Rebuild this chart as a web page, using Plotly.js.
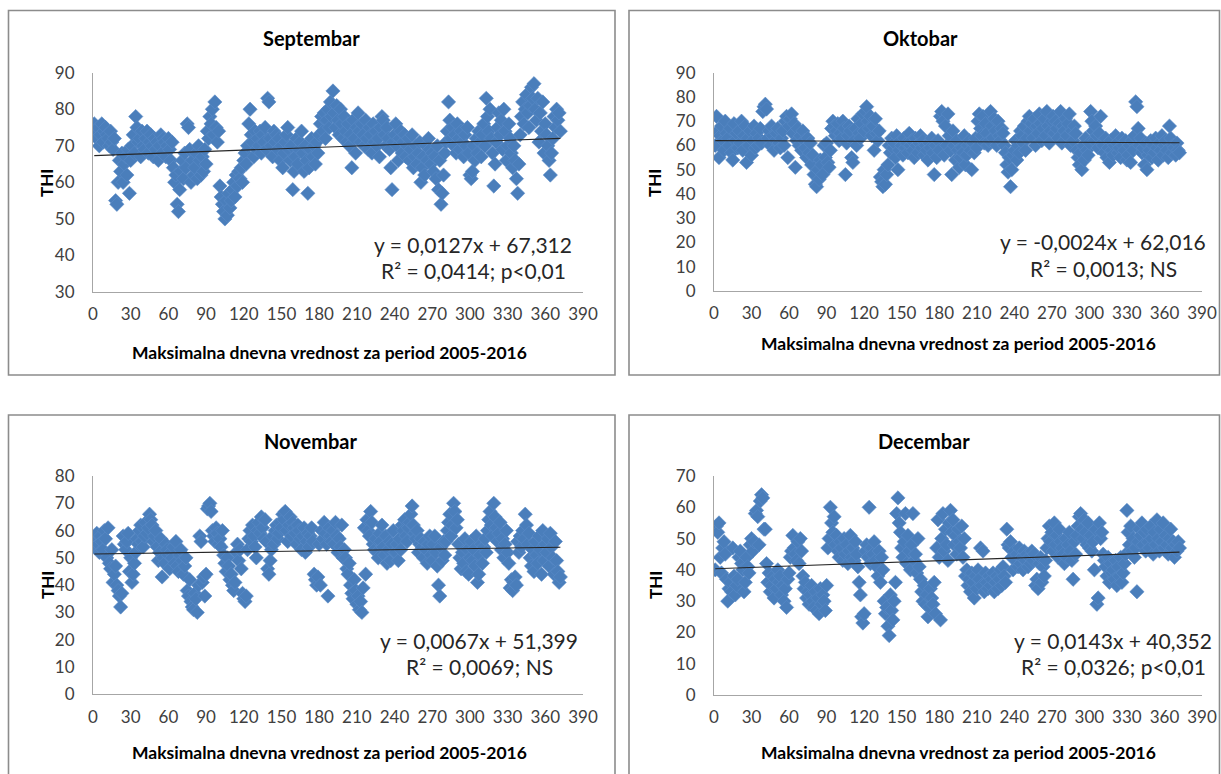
<!DOCTYPE html>
<html>
<head>
<meta charset="utf-8">
<script src="https://cdn.plot.ly/plotly-3.0.1.min.js"></script>
<style>
  html, body { margin: 0; padding: 0; background: #ffffff; }
  #chart { width: 1221px; height: 774px; }
</style>
</head>
<body>
<div id="chart"></div>
<script>
// Monthly THI values, one per day of the 2005-2016 series
const monthNames = ['Septembar', 'Oktobar', 'Novembar', 'Decembar'];

const septTHI = [
  76, 74, 72, 75, 70, 73, 76, 71, 74, 75,
  73, 72, 70, 74, 71, 69, 72, 55, 54, 60,
  66, 63, 68, 60, 65, 67, 62, 69, 57, 66,
  70, 73, 68, 78, 75, 71, 72, 67, 74, 70,
  69, 72, 74, 68, 71, 73, 70, 67, 72, 69,
  71, 66, 70, 73, 68, 72, 71, 67, 70, 72,
  69, 66, 71, 64, 60, 62, 54, 52, 58, 63,
  66, 61, 68, 64, 76, 75, 69, 60, 66, 62,
  64, 68, 61, 70, 66, 62, 67, 63, 69, 65,
  74, 72, 78, 76, 80, 73, 82, 75, 71, 74,
  59, 56, 54, 52, 50, 55, 51, 57, 53, 55,
  58, 60, 56, 62, 59, 63, 61, 64, 60, 66,
  68, 65, 70, 76, 80, 73, 71, 67, 74, 69,
  72, 70, 74, 68, 73, 71, 75, 69, 83, 82,
  72, 70, 67, 74, 71, 73, 69, 72, 66, 70,
  64, 68, 71, 73, 75, 69, 66, 70, 58, 63,
  67, 72, 65, 69, 71, 74, 68, 63, 70, 66,
  57, 64, 69, 72, 67, 70, 65, 71, 68, 73,
  76, 78, 74, 79, 72, 77, 80, 75, 82, 78,
  85, 79, 75, 81, 77, 73, 80, 76, 72, 78,
  74, 71, 76, 70, 73, 64, 77, 72, 68, 75,
  79, 74, 71, 76, 73, 70, 77, 72, 69, 75,
  73, 68, 76, 71, 74, 70, 72, 67, 75, 78,
  77, 73, 70, 75, 72, 69, 64, 58, 71, 73,
  76, 70, 66, 72, 74, 68, 71, 73, 67, 70,
  72, 66, 69, 73, 64, 67, 70, 65, 68, 71,
  60, 64, 67, 62, 70, 66, 72, 69, 65, 68,
  63, 67, 61, 70, 58, 66, 54, 57, 62, 68,
  71, 74, 82, 77, 72, 75, 70, 73, 68, 76,
  72, 69, 74, 71, 67, 73, 70, 75, 68, 62,
  61, 63, 70, 66, 72, 68, 74, 71, 67, 73,
  76, 70, 83, 78, 74, 80, 72, 68, 59, 65,
  71, 75, 79, 73, 77, 69, 80, 74, 66, 70,
  76, 72, 68, 64, 70, 66, 61, 57, 65, 73,
  78, 82, 76, 80, 84, 79, 75, 81, 86, 83,
  87, 80, 77, 83, 71, 79, 74, 82, 68, 76,
  73, 70, 66, 62, 68, 72, 78, 75, 80, 77,
  79, 74
];

const oktTHI = [
  60, 72, 66, 55, 64, 68, 62, 58, 70, 65,
  63, 60, 67, 57, 54, 69, 62, 65, 59, 66,
  61, 70, 58, 64, 68, 53, 63, 60, 66, 56,
  62, 68, 59, 65, 60, 63, 67, 61, 74, 76,
  77, 75, 63, 66, 60, 68, 64, 58, 62, 65,
  67, 61, 59, 63, 66, 60, 70, 72, 55, 68,
  71, 73, 65, 69, 51, 62, 67, 60, 64, 58,
  66, 62, 59, 55, 63, 57, 61, 52, 56, 48,
  44, 43, 50, 46, 54, 52, 48, 60, 55, 61,
  53, 51, 58, 67, 70, 68, 64, 66, 69, 62,
  65, 63, 70, 67, 48, 61, 64, 68, 66, 55,
  53, 62, 67, 60, 71, 65, 63, 69, 73, 66,
  74, 76, 70, 67, 72, 64, 68, 58, 71, 65,
  62, 66, 47, 45, 43, 50, 44, 48, 52, 60,
  57, 63, 59, 61, 55, 64, 50, 58, 62, 60,
  56, 63, 59, 61, 57, 65, 60, 62, 58, 55,
  63, 60, 57, 61, 64, 59, 62, 56, 60, 58,
  54, 61, 59, 63, 57, 48, 60, 55, 62, 58,
  72, 74, 70, 56, 68, 60, 73, 64, 58, 48,
  66, 60, 54, 62, 58, 51, 55, 59, 57, 64,
  52, 56, 60, 62, 58, 50, 61, 57, 63, 59,
  70, 73, 67, 64, 72, 61, 69, 65, 60, 62,
  74, 68, 63, 71, 66, 60, 70, 64, 62, 67,
  65, 60, 57, 52, 49, 55, 43, 50, 56, 58,
  62, 54, 60, 57, 66, 64, 61, 68, 58, 63,
  70, 72, 66, 69, 63, 71, 60, 68, 65, 73,
  69, 62, 67, 71, 64, 74, 68, 61, 66, 70,
  72, 65, 70, 67, 63, 69, 74, 61, 68, 66,
  71, 64, 69, 73, 60, 66, 62, 68, 65, 58,
  55, 52, 57, 50, 60, 54, 63, 58, 56, 61,
  74, 70, 66, 62, 68, 64, 59, 65, 72, 61,
  60, 57, 63, 55, 59, 53, 62, 58, 56, 60,
  64, 61, 57, 59, 55, 63, 60, 58, 62, 54,
  56, 60, 53, 62, 58, 64, 78, 76, 67, 60,
  63, 57, 59, 52, 61, 50, 56, 58, 62, 55,
  60, 57, 63, 59, 54, 61, 58, 64, 56, 60,
  62, 58, 55, 68, 63, 57, 60, 59, 56, 61,
  58, 57
];

const novTHI = [
  54, 57, 59, 55, 52, 58, 56, 53, 60, 57,
  50, 61, 48, 46, 53, 41, 44, 47, 40, 38,
  36, 32, 37, 58, 55, 53, 56, 59, 45, 50,
  41, 44, 48, 52, 57, 55, 60, 62, 56, 54,
  58, 63, 59, 61, 66, 64, 62, 56, 58, 60,
  54, 49, 52, 57, 43, 50, 48, 55, 53, 51,
  46, 52, 50, 54, 48, 56, 47, 45, 51, 53,
  49, 44, 47, 50, 38, 36, 42, 34, 32, 31,
  37, 35, 30, 40, 58, 56, 41, 43, 36, 44,
  68, 69, 70, 67, 60, 58, 56, 61, 59, 55,
  57, 54, 60, 51, 48, 45, 50, 47, 42, 44,
  40, 38, 41, 52, 55, 49, 53, 46, 37, 35,
  34, 36, 53, 57, 60, 56, 62, 58, 54, 50,
  60, 63, 59, 65, 61, 57, 64, 56, 46, 44,
  49, 53, 58, 55, 60, 62, 57, 59, 63, 61,
  66, 64, 67, 60, 56, 62, 65, 58, 63, 61,
  59, 55, 62, 60, 57, 53, 58, 61, 52, 56,
  59, 54, 58, 61, 56, 44, 42, 40, 43, 55,
  40, 60, 57, 63, 59, 55, 36, 61, 58, 56,
  60, 55, 63, 58, 52, 57, 54, 62, 50, 53,
  50, 46, 44, 48, 40, 37, 35, 42, 38, 33,
  36, 31, 34, 30, 39, 61, 44, 64, 60, 58,
  67, 63, 55, 53, 57, 52, 50, 59, 56, 62,
  54, 51, 58, 48, 53, 56, 49, 55, 60, 52,
  52, 55, 49, 57, 53, 62, 60, 64, 58, 56,
  61, 63, 66, 69, 62, 59, 57, 60, 52, 55,
  57, 54, 50, 56, 53, 48, 55, 58, 51, 49,
  55, 58, 52, 47, 40, 36, 54, 49, 56, 51,
  56, 60, 63, 66, 58, 62, 70, 67, 61, 64,
  55, 50, 46, 52, 48, 57, 45, 53, 44, 50,
  56, 49, 53, 47, 58, 41, 44, 51, 55, 48,
  54, 57, 52, 60, 64, 67, 62, 58, 70, 65,
  61, 56, 59, 63, 53, 57, 50, 55, 60, 52,
  48, 39, 42, 38, 41, 43, 40, 56, 52, 58,
  54, 60, 57, 66, 62, 55, 59, 50, 47, 53,
  45, 56, 51, 48, 58, 53, 44, 60, 49, 55,
  52, 57, 47, 59, 54, 50, 44, 56, 49, 45,
  41, 43
];

const decTHI = [
  40, 54, 52, 55, 44, 39, 47, 49, 45, 37,
  30, 34, 36, 33, 47, 38, 32, 35, 37, 44,
  46, 42, 40, 33, 36, 44, 41, 39, 48, 50,
  46, 49, 58, 59, 57, 48, 62, 64, 63, 53,
  53, 42, 36, 39, 33, 35, 38, 31, 37, 34,
  40, 36, 38, 32, 35, 30, 34, 28, 37, 39,
  44, 46, 51, 47, 45, 43, 49, 42, 50, 46,
  38, 34, 36, 31, 33, 29, 32, 35, 30, 28,
  33, 27, 31, 26, 34, 29, 32, 30, 27, 35,
  47, 50, 60, 55, 52, 57, 48, 51, 46, 44,
  49, 47, 43, 50, 45, 48, 42, 46, 51, 44,
  47, 43, 49, 45, 41, 36, 32, 25, 23, 26,
  46, 48, 44, 60, 42, 47, 45, 49, 43, 41,
  38, 46, 36, 44, 40, 30, 26, 28, 22, 19,
  32, 27, 24, 30, 36, 58, 63, 55, 52, 47,
  44, 49, 58, 42, 51, 46, 40, 48, 58, 43,
  45, 39, 50, 41, 37, 33, 30, 35, 29, 32,
  25, 28, 34, 31, 29, 36, 26, 47, 56, 44,
  24, 50, 58, 46, 53, 48, 43, 55, 59, 52,
  56, 48, 51, 45, 53, 49, 47, 54, 44, 50,
  38, 40, 35, 37, 33, 39, 36, 31, 38, 34,
  40, 37, 47, 35, 46, 33, 39, 36, 34, 38,
  35, 37, 39, 33, 36, 38, 34, 37, 40, 35,
  41, 38, 36, 53, 48, 47, 49, 44, 40, 46,
  43, 45, 41, 47, 42, 44, 40, 46, 43, 45,
  41, 44, 42, 46, 43, 45, 35, 37, 34, 42,
  44, 36, 41, 38, 43, 47, 50, 54, 49, 52,
  46, 55, 48, 51, 44, 53, 49, 47, 45, 42,
  50, 44, 48, 52, 46, 43, 37, 49, 45, 51,
  54, 57, 58, 53, 50, 56, 52, 48, 55, 47,
  51, 46, 49, 40, 53, 29, 31, 55, 50, 52,
  45, 43, 41, 38, 44, 36, 42, 39, 40, 37,
  43, 35, 41, 38, 44, 36, 39, 42, 45, 59,
  52, 48, 54, 46, 50, 44, 47, 33, 49, 53,
  51, 55, 48, 52, 46, 53, 49, 47, 54, 50,
  45, 52, 48, 56, 50, 46, 53, 49, 55, 47,
  51, 48, 45, 50, 53, 47, 49, 44, 48, 46,
  49, 47
];

// Linear trend fits and their statistics
const trendSlope = [0.0127, -0.0024, 0.0067, 0.0143];
const trendIntercept = [67.312, 62.016, 51.399, 40.352];
const rSquared = [0.0414, 0.0013, 0.0069, 0.0326];
const significance = ['p<0,01', 'NS', 'NS', 'p<0,01'];

// Axis ticks
const xTicks = [0, 30, 60, 90, 120, 150, 180, 210, 240, 270, 300, 330, 360, 390];
const yRanges = [[30, 90], [0, 90], [0, 80], [0, 70]];

const xTitle = 'Maksimalna dnevna vrednost za period 2005-2016';
const yTitle = 'THI';

const seriesList = [septTHI, oktTHI, novTHI, decTHI];

// Page geometry (pixels)
const W = 1221, H = 774;
const FONT = 'Lato, "Open Sans", sans-serif';
const panels = [
  { left: 93,  right: 583,  top: 72.7, bottom: 292,   box: [8.5, 10.5, 615, 375],
    title: [311, 38], xt: [329, 352], yt: [47, 183], eq: [473, 244] },
  { left: 714, right: 1202, top: 72.7, bottom: 291,   box: [629, 10.5, 1219.5, 375],
    title: [920, 38], xt: [958, 343], yt: [655, 183], eq: [1103, 242] },
  { left: 93,  right: 583,  top: 476,  bottom: 694.3, box: [8.5, 415, 615, 790],
    title: [310, 441], xt: [329, 752], yt: [47, 585], eq: [479, 640] },
  { left: 714, right: 1202, top: 476,  bottom: 695,   box: [629, 415, 1219.5, 790],
    title: [924, 441], xt: [958, 752], yt: [655, 585], eq: [1113, 640] }
];

const px = v => v / W;
const py = v => 1 - v / H;
const fmt = (v, d) => v.toFixed(d).replace('.', ',');

const traces = [];
const layout = {
  width: W, height: H,
  margin: { l: 0, r: 0, t: 0, b: 0 },
  paper_bgcolor: '#ffffff',
  plot_bgcolor: 'rgba(0,0,0,0)',
  showlegend: false,
  font: { family: FONT, color: '#262626' },
  annotations: [],
  shapes: []
};

panels.forEach((p, i) => {
  const n = i + 1;
  const xa = n === 1 ? 'x' : 'x' + n;
  const ya = n === 1 ? 'y' : 'y' + n;
  const vals = seriesList[i];
  const days = vals.map((_, k) => k + 1);

  traces.push({
    type: 'scatter', mode: 'markers', x: days, y: vals,
    xaxis: xa, yaxis: ya, hoverinfo: 'skip',
    marker: { symbol: 'diamond', size: 11, color: '#4a7ebb',
              line: { width: 0.6, color: '#5b8cc8' } }
  });

  const xStart = days[0], xEnd = days[days.length - 1];
  traces.push({
    type: 'scatter', mode: 'lines',
    x: [xStart, xEnd],
    y: [trendIntercept[i] + trendSlope[i] * xStart, trendIntercept[i] + trendSlope[i] * xEnd],
    xaxis: xa, yaxis: ya, hoverinfo: 'skip',
    line: { color: '#262626', width: 1.1 }
  });

  const [y0, y1] = yRanges[i];
  const yTicks = [];
  for (let t = y0; t <= y1; t += 10) yTicks.push(t);

  layout['xaxis' + (n === 1 ? '' : n)] = {
    domain: [px(p.left), px(p.right)], anchor: ya,
    range: [0, 390], tickvals: xTicks, ticktext: xTicks.map(String),
    showgrid: false, zeroline: false, showline: true,
    linecolor: '#a6a6a6', linewidth: 1, ticks: '',
    ticklabelstandoff: 7,
    tickfont: { family: FONT, size: 17, color: '#404040' }
  };
  layout['yaxis' + (n === 1 ? '' : n)] = {
    domain: [py(p.bottom), py(p.top)], anchor: xa,
    range: [y0, y1], tickvals: yTicks, ticktext: yTicks.map(String),
    showgrid: false, zeroline: false, showline: true,
    linecolor: '#a6a6a6', linewidth: 1, ticks: '',
    ticklabelstandoff: 14,
    tickfont: { family: FONT, size: 17, color: '#404040' }
  };

  // Panel frame
  layout.shapes.push({
    type: 'rect', xref: 'paper', yref: 'paper',
    x0: px(p.box[0]), x1: px(p.box[2]), y0: py(p.box[3]), y1: py(p.box[1]),
    line: { color: '#8c8c8c', width: 1.6 }, fillcolor: 'rgba(0,0,0,0)'
  });

  // Panel title
  layout.annotations.push({
    xref: 'paper', yref: 'paper', x: px(p.title[0]), y: py(p.title[1]),
    xanchor: 'center', yanchor: 'middle', showarrow: false,
    text: '<b>' + monthNames[i] + '</b>',
    font: { family: FONT, size: 20, color: '#000000' }
  });
  // Axis titles
  layout.annotations.push({
    xref: 'paper', yref: 'paper', x: px(p.xt[0]), y: py(p.xt[1]),
    xanchor: 'center', yanchor: 'middle', showarrow: false,
    text: '<b>' + xTitle + '</b>',
    font: { family: FONT, size: 17.5, color: '#000000' }
  });
  layout.annotations.push({
    xref: 'paper', yref: 'paper', x: px(p.yt[0]), y: py(p.yt[1]),
    xanchor: 'center', yanchor: 'middle', showarrow: false, textangle: -90,
    text: '<b>' + yTitle + '</b>',
    font: { family: FONT, size: 17, color: '#000000' }
  });
  // Trend equation and fit statistics
  const sign = trendIntercept[i] >= 0 ? ' + ' : ' - ';
  const eqLine = 'y = ' + fmt(trendSlope[i], 4) + 'x' + sign + fmt(Math.abs(trendIntercept[i]), 3);
  const r2Line = 'R² = ' + fmt(rSquared[i], 4) + '; ' + significance[i];
  layout.annotations.push({
    xref: 'paper', yref: 'paper', x: px(p.eq[0]), y: py(p.eq[1]),
    xanchor: 'center', yanchor: 'middle', showarrow: false,
    text: eqLine, font: { family: FONT, size: 21, color: '#262626' }
  });
  layout.annotations.push({
    xref: 'paper', yref: 'paper', x: px(p.eq[0]), y: py(p.eq[1] + 26.5),
    xanchor: 'center', yanchor: 'middle', showarrow: false,
    text: r2Line, font: { family: FONT, size: 21, color: '#262626' }
  });
});

Plotly.newPlot('chart', traces, layout, { displayModeBar: false, staticPlot: true });
</script>
</body>
</html>
